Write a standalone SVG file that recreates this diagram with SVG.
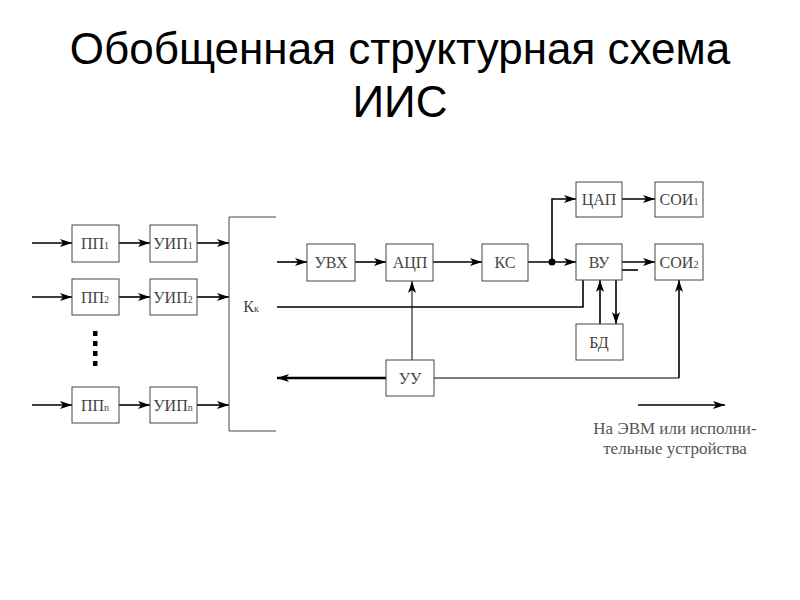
<svg xmlns="http://www.w3.org/2000/svg" width="800" height="600" viewBox="0 0 800 600">
<defs>
<marker id="arr" viewBox="0 0 12 8" refX="12" refY="4" markerWidth="12" markerHeight="8" markerUnits="userSpaceOnUse" orient="auto">
<path d="M0,0 L12,4 L0,8 L3,4 Z" fill="#000"/>
</marker>
<style>
.box{fill:#fff;stroke:#444;stroke-width:1}
.lbl{font-family:"Liberation Serif","Times New Roman",serif;font-size:16px;fill:#444;text-anchor:middle}
.sub{font-size:10px}
.c{fill:none;stroke:#000;stroke-width:1.6}
.ct{fill:none;stroke:#000;stroke-width:1}
.ck{fill:none;stroke:#000;stroke-width:2.6}
.title{font-family:"Liberation Sans",Arial,sans-serif;font-size:44px;fill:#000;text-anchor:middle}
.note{font-family:"Liberation Serif","Times New Roman",serif;font-size:17px;fill:#555;text-anchor:middle}
</style>
</defs>
<rect width="800" height="600" fill="#fff"/>
<g id="title">
<text class="title" x="400" y="64">Обобщенная структурная схема</text>
<text class="title" x="400" y="117">ИИС</text>
</g>
<g id="connectors">
<line class="c" x1="32" y1="243" x2="72" y2="243" marker-end="url(#arr)"/>
<line class="c" x1="32" y1="297" x2="72" y2="297" marker-end="url(#arr)"/>
<line class="c" x1="32" y1="405" x2="72" y2="405" marker-end="url(#arr)"/>
<line class="c" x1="119" y1="243" x2="150" y2="243" marker-end="url(#arr)"/>
<line class="c" x1="119" y1="297" x2="150" y2="297" marker-end="url(#arr)"/>
<line class="c" x1="119" y1="405" x2="150" y2="405" marker-end="url(#arr)"/>
<line class="c" x1="197" y1="243" x2="229" y2="243" marker-end="url(#arr)"/>
<line class="c" x1="197" y1="297" x2="229" y2="297" marker-end="url(#arr)"/>
<line class="c" x1="197" y1="405" x2="229" y2="405" marker-end="url(#arr)"/>
<line class="c" x1="277" y1="262" x2="307" y2="262" marker-end="url(#arr)"/>
<line class="c" x1="355" y1="262" x2="386" y2="262" marker-end="url(#arr)"/>
<line class="c" x1="433" y1="262" x2="482" y2="262" marker-end="url(#arr)"/>
<line class="c" x1="528" y1="262" x2="576" y2="262" marker-end="url(#arr)"/>
<circle cx="552" cy="262" r="3.5" fill="#000"/>
<path class="c" d="M552,262 V199 H576" marker-end="url(#arr)"/>
<line class="c" x1="622" y1="199" x2="655" y2="199" marker-end="url(#arr)"/>
<line class="c" x1="622" y1="262" x2="655" y2="262" marker-end="url(#arr)"/>
<line class="c" x1="622" y1="270" x2="638" y2="270"/>
<path class="c" d="M277,307 H583 V280"/>
<line class="c" x1="600" y1="324" x2="600" y2="280" marker-end="url(#arr)"/>
<line class="c" x1="616" y1="280" x2="616" y2="324" marker-end="url(#arr)"/>
<line class="ct" x1="412" y1="360" x2="412" y2="281" marker-end="url(#arr)"/>
<line class="ck" x1="386" y1="378" x2="277" y2="378" marker-end="url(#arr)"/>
<path class="ct" d="M434,378 H679"/>
<line class="c" x1="679" y1="378" x2="679" y2="280" marker-end="url(#arr)"/>
<line class="c" x1="638" y1="405" x2="725" y2="405" marker-end="url(#arr)"/>
</g>
<g id="dots" fill="#000">
<rect x="93" y="331" width="4.5" height="5"/>
<rect x="93" y="341" width="4.5" height="5"/>
<rect x="93" y="351" width="4.5" height="5"/>
<rect x="93" y="361" width="4.5" height="5"/>
</g>
<g id="pp1"><rect class="box" x="72" y="225" width="47" height="37"/><text class="lbl" x="95" y="249">ПП<tspan class="sub">1</tspan></text></g>
<g id="uip1"><rect class="box" x="150" y="225" width="47" height="37"/><text class="lbl" x="173" y="249">УИП<tspan class="sub">1</tspan></text></g>
<g id="pp2"><rect class="box" x="72" y="279" width="47" height="36"/><text class="lbl" x="95" y="303">ПП<tspan class="sub">2</tspan></text></g>
<g id="uip2"><rect class="box" x="150" y="279" width="47" height="36"/><text class="lbl" x="173" y="303">УИП<tspan class="sub">2</tspan></text></g>
<g id="ppn"><rect class="box" x="72" y="387" width="47" height="36"/><text class="lbl" x="95" y="411">ПП<tspan class="sub">n</tspan></text></g>
<g id="uipn"><rect class="box" x="150" y="387" width="47" height="36"/><text class="lbl" x="173" y="411">УИП<tspan class="sub">n</tspan></text></g>
<g id="kk"><path d="M276,217 H229 V431 H276" fill="none" stroke="#444" stroke-width="1"/><text class="lbl" x="251" y="312">К<tspan class="sub">к</tspan></text></g>
<g id="uvx"><rect class="box" x="307" y="244" width="48" height="37"/><text class="lbl" x="331" y="268">УВХ</text></g>
<g id="acp"><rect class="box" x="386" y="244" width="47" height="37"/><text class="lbl" x="410" y="268">АЦП</text></g>
<g id="ks"><rect class="box" x="482" y="244" width="46" height="37"/><text class="lbl" x="505" y="268">КС</text></g>
<g id="cap"><rect class="box" x="576" y="182" width="46" height="35"/><text class="lbl" x="599" y="205">ЦАП</text></g>
<g id="soi1"><rect class="box" x="655" y="182" width="48" height="35"/><text class="lbl" x="679" y="205">СОИ<tspan class="sub">1</tspan></text></g>
<g id="vu"><rect class="box" x="576" y="244" width="46" height="36"/><text class="lbl" x="599" y="268">ВУ</text></g>
<g id="soi2"><rect class="box" x="655" y="244" width="48" height="36"/><text class="lbl" x="679" y="268">СОИ<tspan class="sub">2</tspan></text></g>
<g id="bd"><rect class="box" x="576" y="324" width="47" height="36"/><text class="lbl" x="599" y="348">БД</text></g>
<g id="uu"><rect class="box" x="386" y="360" width="48" height="36"/><text class="lbl" x="410" y="384">УУ</text></g>
<g id="note">
<text class="note" x="675" y="434">На ЭВМ или исполни-</text>
<text class="note" x="675" y="454">тельные устройства</text>
</g>
</svg>
